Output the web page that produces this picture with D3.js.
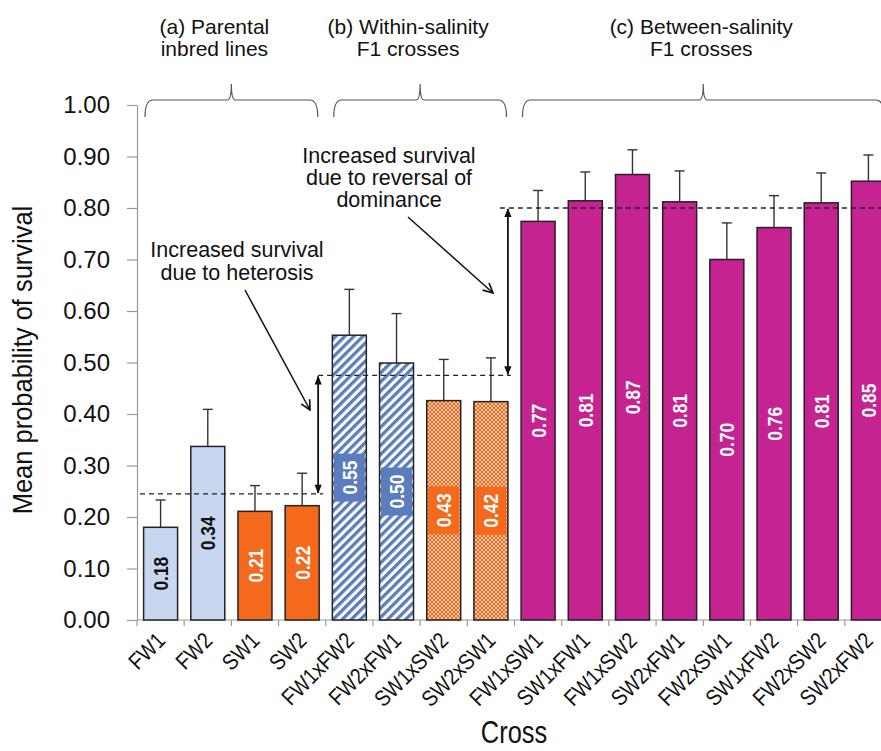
<!DOCTYPE html>
<html>
<head>
<meta charset="utf-8">
<script src="https://cdn.jsdelivr.net/npm/d3@7"></script>
<style>
  html, body { margin: 0; padding: 0; background: #fff; overflow: hidden; }
  svg { display: block; font-family: "Liberation Sans", Arial, sans-serif; }
</style>
</head>
<body>
<div id="chart"></div>
<script>
// ---------------- data ----------------
const categories = ["FW1","FW2","SW1","SW2","FW1xFW2","FW2xFW1","SW1xSW2","SW2xSW1",
  "FW1xSW1","SW1xFW1","FW1xSW2","SW2xFW1","FW2xSW1","SW1xFW2","FW2xSW2","SW2xFW2"];
const means = [0.180,0.337,0.211,0.222,0.553,0.499,0.426,0.424,
  0.774,0.814,0.865,0.812,0.700,0.762,0.810,0.852];
const upperErr = [0.233,0.409,0.261,0.285,0.642,0.595,0.506,0.509,
  0.834,0.870,0.913,0.872,0.771,0.824,0.868,0.903];
const valueLabels = ["0.18","0.34","0.21","0.22","0.55","0.50","0.43","0.42",
  "0.77","0.81","0.87","0.81","0.70","0.76","0.81","0.85"];
const kinds = ["fwParent","fwParent","swParent","swParent","fwWithin","fwWithin","swWithin","swWithin",
  "between","between","between","between","between","between","between","between"];
const groupNames = [["(a) Parental","inbred lines"],["(b) Within-salinity","F1 crosses"],["(c) Between-salinity","F1 crosses"]];
const groupMembers = [[0,3],[4,7],[8,15]];
const yTicks = [0,0.1,0.2,0.3,0.4,0.5,0.6,0.7,0.8,0.9,1.0];
const refLevels = [0.245, 0.475, 0.80];
const yTitle = "Mean probability of survival";
const xTitle = "Cross";
const note1 = ["Increased survival","due to heterosis"];
const note2 = ["Increased survival","due to reversal of","dominance"];

// ---------------- layout ----------------
const W = 881, H = 751;
const svg = d3.select("#chart").append("svg").attr("width", W).attr("height", H);

const x = d3.scaleBand().domain(categories).range([137, 892]).paddingInner(0.28).paddingOuter(0.14);
const y = d3.scaleLinear().domain([0, 1]).range([620, 105]);
const bw = x.bandwidth();
const step = x.step();
const halfGap = step * x.paddingInner() / 2;

const colors = {
  lightBlue: "#c8d7ef", orange: "#f4691c", magenta: "#c62392", blue: "#5b7dbd"
};

// patterns
const defs = svg.append("defs");
const hatch = defs.append("pattern").attr("id", "hatch").attr("patternUnits", "userSpaceOnUse")
  .attr("width", 6.4).attr("height", 6.4).attr("patternTransform", "rotate(45)");
hatch.append("rect").attr("width", 6.4).attr("height", 6.4).attr("fill", "#fff");
hatch.append("rect").attr("width", 3.3).attr("height", 6.4).attr("fill", colors.blue);

const dots = defs.append("pattern").attr("id", "dots").attr("patternUnits", "userSpaceOnUse")
  .attr("width", 4).attr("height", 4);
dots.append("rect").attr("width", 4).attr("height", 4).attr("fill", colors.orange);
dots.append("path").attr("d", "M0,0L4,4M4,0L0,4").attr("stroke", "#fde0cc").attr("stroke-width", 0.8);

defs.append("marker").attr("id", "openHead").attr("viewBox", "0 0 10 10")
  .attr("refX", 9).attr("refY", 5).attr("markerWidth", 12).attr("markerHeight", 12)
  .attr("markerUnits", "userSpaceOnUse").attr("orient", "auto")
  .append("path").attr("d", "M1,1L9,5L1,9").attr("fill", "none").attr("stroke", "#111").attr("stroke-width", 1.4);

defs.append("marker").attr("id", "solidHead").attr("viewBox", "0 0 10 10")
  .attr("refX", 9).attr("refY", 5).attr("markerWidth", 11).attr("markerHeight", 9)
  .attr("markerUnits", "userSpaceOnUse").attr("orient", "auto-start-reverse")
  .append("path").attr("d", "M0,1L10,5L0,9Z").attr("fill", "#111");

const fillFor = k => ({fwParent: colors.lightBlue, swParent: colors.orange, fwWithin: "url(#hatch)",
  swWithin: "url(#dots)", between: colors.magenta})[k];

// ---------------- axes ----------------
const yAxis = svg.append("g").attr("transform", "translate(137,0)")
  .call(d3.axisLeft(y).tickValues(yTicks).tickFormat(d3.format(".2f")).tickSize(10).tickSizeOuter(0).tickPadding(17));
yAxis.select(".domain").attr("stroke", "#9a9a9a").attr("stroke-width", 1.2);
yAxis.selectAll(".tick line").attr("stroke", "#9a9a9a").attr("stroke-width", 1.2);
yAxis.selectAll(".tick text").attr("font-size", 24).attr("fill", "#111")
  .attr("font-family", "'Liberation Sans', Arial, sans-serif");

// x axis baseline + boundary ticks
const xAxis = svg.append("g");
xAxis.append("line").attr("x1", 137).attr("x2", 892).attr("y1", y(0)).attr("y2", y(0))
  .attr("stroke", "#9a9a9a").attr("stroke-width", 1.2);
const bounds = categories.map(c => x(c) - halfGap).concat([x(categories[categories.length - 1]) + bw + halfGap]);
xAxis.selectAll(".bt").data(bounds).join("line")
  .attr("x1", d => d).attr("x2", d => d).attr("y1", y(0)).attr("y2", y(0) + 6)
  .attr("stroke", "#9a9a9a").attr("stroke-width", 1.2);
xAxis.selectAll(".xl").data(categories).join("text")
  .attr("transform", d => `translate(${x(d) + bw / 2 + 6},${y(0) + 22}) rotate(-45) scale(0.86,1)`)
  .attr("text-anchor", "end").attr("font-size", 22.5).attr("fill", "#111").text(d => d);

// ---------------- bars ----------------
const data = categories.map((c, i) => ({c, v: means[i], u: upperErr[i], lab: valueLabels[i], k: kinds[i]}));

// error bars (drawn under bars)
const eb = svg.append("g");
eb.selectAll(".ev").data(data).join("line")
  .attr("x1", d => x(d.c) + bw / 2).attr("x2", d => x(d.c) + bw / 2)
  .attr("y1", d => y(d.v)).attr("y2", d => y(d.u)).attr("stroke", "#333").attr("stroke-width", 1.4);
eb.selectAll(".ec").data(data).join("line")
  .attr("x1", d => x(d.c) + bw / 2 - 5).attr("x2", d => x(d.c) + bw / 2 + 5)
  .attr("y1", d => y(d.u)).attr("y2", d => y(d.u)).attr("stroke", "#333").attr("stroke-width", 1.4);

svg.append("g").selectAll("rect").data(data).join("rect")
  .attr("x", d => x(d.c)).attr("y", d => y(d.v)).attr("width", bw).attr("height", d => y(0) - y(d.v))
  .attr("fill", d => fillFor(d.k)).attr("stroke", "#222").attr("stroke-width", 1.5);

// label boxes for within-salinity crosses
svg.append("g").selectAll("rect").data(data.filter(d => d.k === "fwWithin" || d.k === "swWithin")).join("rect")
  .attr("x", d => x(d.c) + 1.5).attr("width", bw - 3)
  .attr("y", d => (y(d.v) + y(0)) / 2 - 24).attr("height", 48)
  .attr("fill", d => d.k === "fwWithin" ? colors.blue : colors.orange);

svg.append("g").selectAll("text").data(data).join("text")
  .attr("transform", d => `translate(${x(d.c) + bw / 2},${(y(d.v) + y(0)) / 2}) rotate(-90) scale(0.83,1)`)
  .attr("text-anchor", "middle").attr("dy", "0.36em")
  .attr("font-size", 21).attr("font-weight", "bold")
  .attr("fill", d => d.k === "fwParent" ? "#111" : "#fff").text(d => d.lab);

// ---------------- reference lines ----------------
const lastOf = i => x(categories[i]) + bw;
const refSegs = [
  {v: refLevels[0], x1: 140, x2: lastOf(3) + 4},
  {v: refLevels[1], x1: lastOf(3) - 1, x2: lastOf(7) + 3},
  {v: refLevels[2], x1: lastOf(7) - 8, x2: 892}
];
svg.append("g").selectAll("line").data(refSegs).join("line")
  .attr("x1", d => d.x1).attr("x2", d => d.x2).attr("y1", d => y(d.v)).attr("y2", d => y(d.v))
  .attr("stroke", "#222").attr("stroke-width", 1.3).attr("stroke-dasharray", "5,4");

// double arrows
const dbl = [
  {xx: lastOf(3) - 1, a: refLevels[0], b: refLevels[1]},
  {xx: lastOf(7), a: refLevels[1], b: refLevels[2]}
];
svg.append("g").selectAll("line").data(dbl).join("line")
  .attr("x1", d => d.xx).attr("x2", d => d.xx).attr("y1", d => y(d.a) - 1).attr("y2", d => y(d.b) + 1)
  .attr("stroke", "#111").attr("stroke-width", 1.8)
  .attr("marker-start", "url(#solidHead)").attr("marker-end", "url(#solidHead)");

// ---------------- braces & group labels ----------------
const brG = svg.append("g");
const labelOffsets = [-17, -12, -2];
groupMembers.forEach((g, i) => {
  const x0 = x(categories[g[0]]) - halfGap + 8;
  const x1 = x(categories[g[1]]) + bw + halfGap - 8;
  const xm = (x0 + x1) / 2, yb = 100;
  const p = `M${x0},${yb + 17} Q${x0},${yb} ${x0 + 8},${yb} L${xm - 4},${yb} Q${xm},${yb} ${xm},${yb - 16} Q${xm},${yb} ${xm + 4},${yb} L${x1 - 8},${yb} Q${x1},${yb} ${x1},${yb + 17}`;
  brG.append("path").attr("d", p).attr("fill", "none").attr("stroke", "#555").attr("stroke-width", 1.2);
  const t = brG.append("text").attr("text-anchor", "middle").attr("font-size", 21).attr("fill", "#111");
  groupNames[i].forEach((ln, j) => {
    t.append("tspan").attr("x", xm + labelOffsets[i]).attr("y", 34 + j * 22).text(ln);
  });
});

// ---------------- annotations ----------------
const ann = svg.append("g").attr("fill", "#111");
const t1 = ann.append("text").attr("text-anchor", "middle").attr("font-size", 21.5);
note1.forEach((ln, j) => t1.append("tspan").attr("x", 237).attr("y", 257 + j * 23).text(ln));
const t2 = ann.append("text").attr("text-anchor", "middle").attr("font-size", 21.5);
note2.forEach((ln, j) => t2.append("tspan").attr("x", 389).attr("y", 163 + j * 22).text(ln));

ann.append("line").attr("x1", 245).attr("y1", 290).attr("x2", 310).attr("y2", 410)
  .attr("stroke", "#111").attr("stroke-width", 1.5).attr("marker-end", "url(#openHead)");
ann.append("line").attr("x1", 408).attr("y1", 217).attr("x2", 493).attr("y2", 293)
  .attr("stroke", "#111").attr("stroke-width", 1.5).attr("marker-end", "url(#openHead)");

// ---------------- titles ----------------
svg.append("text").attr("transform", "translate(32,360) rotate(-90) scale(0.91,1)")
  .attr("text-anchor", "middle").attr("font-size", 28).attr("fill", "#111").text(yTitle);
svg.append("text").attr("transform", "translate(514,743) scale(0.82,1)")
  .attr("text-anchor", "middle").attr("font-size", 31).attr("fill", "#111").text(xTitle);
</script>
</body>
</html>
